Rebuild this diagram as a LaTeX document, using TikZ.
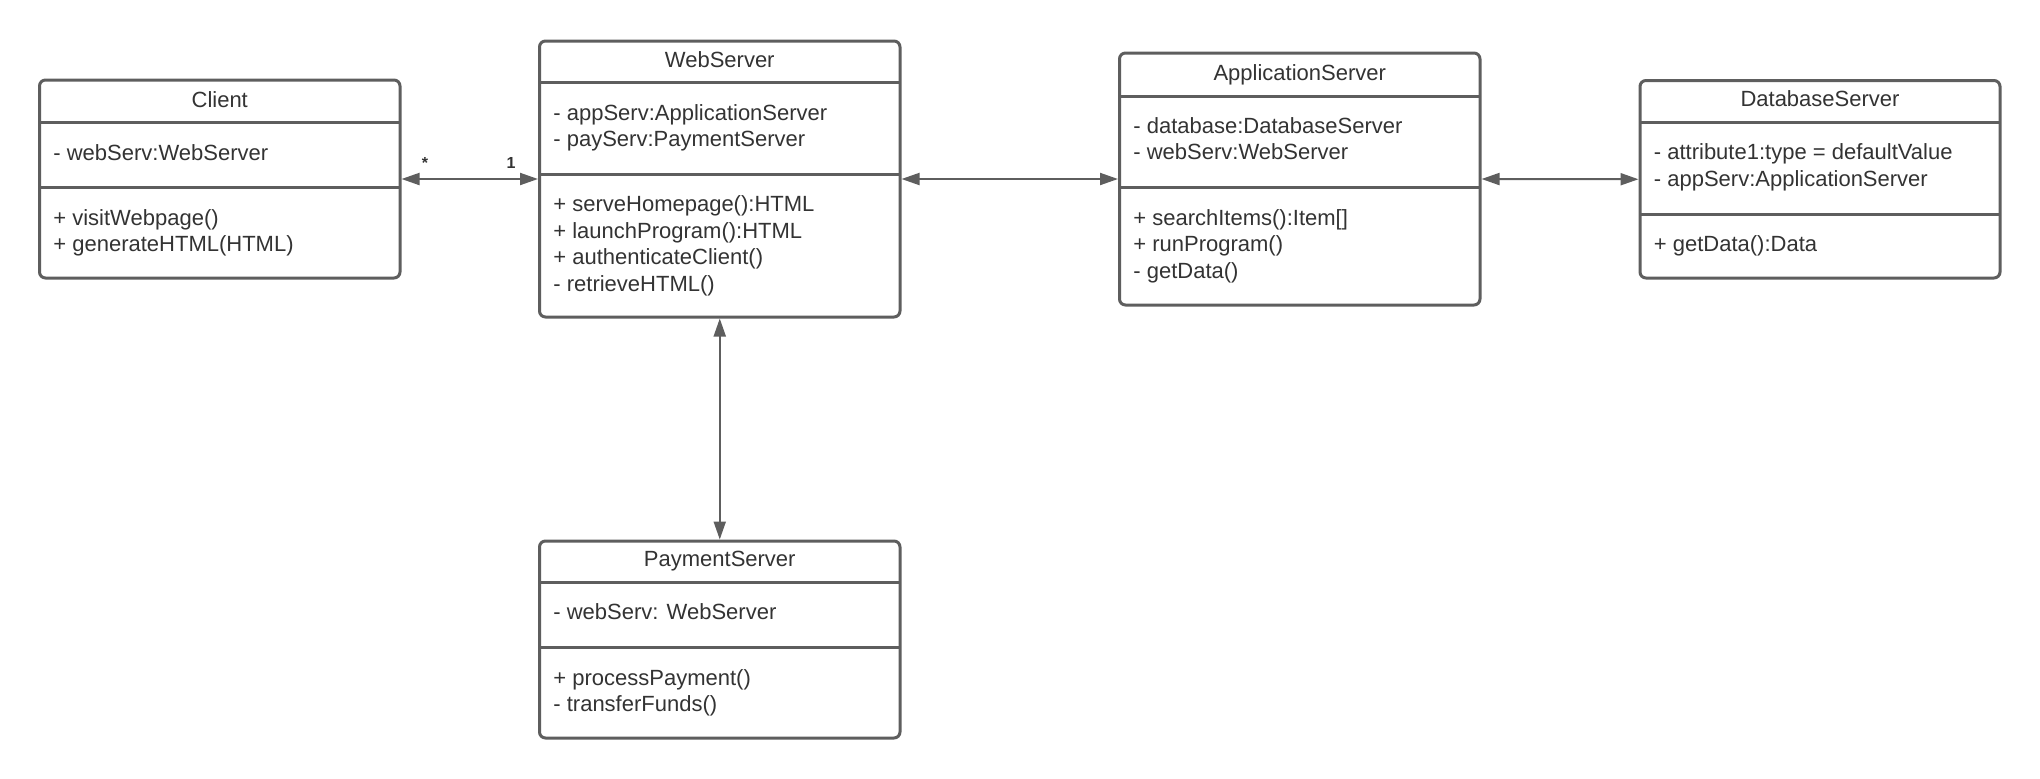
\documentclass[tikz,border=0pt]{standalone}
\usepackage{fontspec}
\setmainfont{Liberation Sans}
\usetikzlibrary{arrows.meta,fit}
\definecolor{linec}{HTML}{5E5E5E}
\definecolor{textc}{HTML}{333333}
\tikzset{
  classbox/.style={draw=linec, line width=1.5pt, rounded corners=3pt, inner sep=0pt, fill=white},
  divider/.style={draw=linec, line width=1.5pt},
  txt/.style={anchor=base west, inner sep=0pt, text=textc, font=\fontsize{11pt}{13pt}\selectfont},
  ttl/.style={anchor=base, inner sep=0pt, text=textc, font=\fontsize{11pt}{13pt}\selectfont},
  conn/.style={draw=linec, line width=1pt, {Triangle[length=9pt,width=6pt]}-{Triangle[length=9pt,width=6pt]}},
  mult/.style={anchor=base, inner sep=0pt, text=textc, font=\fontsize{8pt}{9pt}\selectfont\bfseries}
}
\begin{document}
\begin{tikzpicture}[x=0.5pt,y=-0.5pt]
\useasboundingbox (0,0) rectangle (2040,778);
% Client
\coordinate (c-nw) at (39.5,80); \coordinate (c-se) at (400,278);
\node[classbox, fit=(c-nw)(c-se)] (client) {};
\draw[divider] (39.5,122) -- (400,122);
\draw[divider] (39.5,187) -- (400,187);
\node[ttl] (client-t) at (219.75,107) {Client};
\node[txt] (client-a1) at (53,160) {- webServ:WebServer};
\node[txt] (client-m1) at (53,225) {+ visitWebpage()};
\node[txt] (client-m2) at (53,251.5) {+ generateHTML(HTML)};
% WebServer
\coordinate (w-nw) at (539.5,41); \coordinate (w-se) at (900,317);
\node[classbox, fit=(w-nw)(w-se)] (ws) {};
\draw[divider] (539.5,82) -- (900,82);
\draw[divider] (539.5,174) -- (900,174);
\node[ttl] (ws-t) at (719.75,67) {WebServer};
\node[txt] (ws-a1) at (553,120) {- appServ:ApplicationServer};
\node[txt] (ws-a2) at (553,146.5) {- payServ:PaymentServer};
\node[txt] (ws-m1) at (553,211.7) {+ serveHomepage():HTML};
\node[txt] (ws-m2) at (553,238.2) {+ launchProgram():HTML};
\node[txt] (ws-m3) at (553,264.7) {+ authenticateClient()};
\node[txt] (ws-m4) at (553,291.2) {- retrieveHTML()};
% ApplicationServer
\coordinate (a-nw) at (1119.5,53); \coordinate (a-se) at (1480,305);
\node[classbox, fit=(a-nw)(a-se)] (as) {};
\draw[divider] (1119.5,96) -- (1480,96);
\draw[divider] (1119.5,187) -- (1480,187);
\node[ttl] (as-t) at (1299.75,80) {ApplicationServer};
\node[txt] (as-a1) at (1133,133.3) {- database:DatabaseServer};
\node[txt] (as-a2) at (1133,159.3) {- webServ:WebServer};
\node[txt] (as-m1) at (1133,225) {+ searchItems():Item[]};
\node[txt] (as-m2) at (1133,251.5) {+ runProgram()};
\node[txt] (as-m3) at (1133,278) {- getData()};
% DatabaseServer
\coordinate (d-nw) at (1640,80.5); \coordinate (d-se) at (2000,278);
\node[classbox, fit=(d-nw)(d-se)] (db) {};
\draw[divider] (1640,122) -- (2000,122);
\draw[divider] (1640,214) -- (2000,214);
\node[ttl] (db-t) at (1820,106.5) {DatabaseServer};
\node[txt] (db-a1) at (1653.5,159.3) {- attribute1:type = defaultValue};
\node[txt] (db-a2) at (1653.5,186) {- appServ:ApplicationServer};
\node[txt] (db-m1) at (1653.5,251) {+ getData():Data};
% PaymentServer
\coordinate (p-nw) at (539.5,541); \coordinate (p-se) at (900,738);
\node[classbox, fit=(p-nw)(p-se)] (ps) {};
\draw[divider] (539.5,582) -- (900,582);
\draw[divider] (539.5,647) -- (900,647);
\node[ttl] (ps-t) at (719.75,566) {PaymentServer};
\node[txt] (ps-a1) at (553,619.3) {- webServ: WebServer};
\node[txt] (ps-m1) at (553,685) {+ processPayment()};
\node[txt] (ps-m2) at (553,711.7) {- transferFunds()};
% connectors
\draw[conn] (client.east) -- (ws.west);
\draw[conn] (ws.east) -- (as.west);
\draw[conn] (as.east) -- (db.west);
\draw[conn] (ws.south) -- (ps.north);
\node[mult] (m-star) at (425,168) {*};
\node[mult] (m-one) at (511,168) {1};
\end{tikzpicture}
\end{document}
